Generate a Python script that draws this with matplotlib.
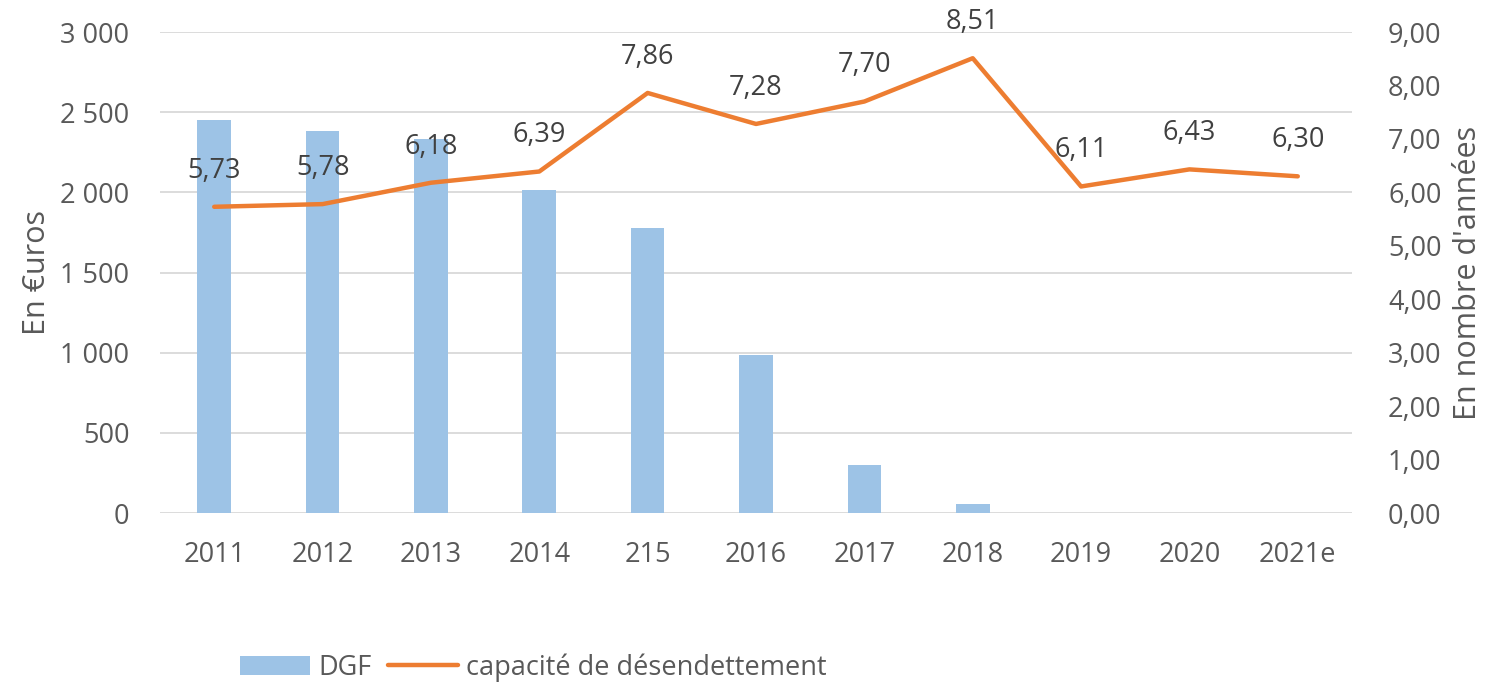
import matplotlib
matplotlib.use("Agg")
import matplotlib.pyplot as plt
from matplotlib.ticker import FuncFormatter

categories = ["2011", "2012", "2013", "2014", "215", "2016", "2017", "2018", "2019", "2020", "2021e"]
dgf = [2450, 2383, 2333, 2015, 1778, 985, 299, 56, 0, 0, 0]
capacite = [5.73, 5.78, 6.18, 6.39, 7.86, 7.28, 7.70, 8.51, 6.11, 6.43, 6.30]

plt.rcParams['font.family'] = ['Open Sans', 'DejaVu Sans']
txt = '#595959'
fs = 19.5

fig = plt.figure(figsize=(14.86, 6.83), dpi=100)
ax = fig.add_axes([0.1077, 0.2489, 0.8021, 0.7042])
x = list(range(len(categories)))
bars = ax.bar(x, dgf, width=0.31, color='#9DC3E6', zorder=2, label='DGF')
ax.set_xlim(-0.5, len(categories) - 0.5)
ax.set_ylim(0, 3000)
ax.set_yticks(range(0, 3001, 500))
ax.yaxis.set_major_formatter(FuncFormatter(lambda v, p: f"{int(v):,}".replace(",", " ")))
ax.grid(axis='y', color='#D9D9D9', linewidth=1.3, zorder=0)
ax.set_xticks(x)
ax.set_xticklabels(categories)
for s in ax.spines.values():
    s.set_visible(False)
ax.tick_params(axis='both', length=0, labelsize=fs, colors=txt)
ax.tick_params(axis='x', pad=20)
ax.tick_params(axis='y', pad=22)
ax.set_ylabel("En €uros", fontsize=22, color=txt, labelpad=6)

ax2 = ax.twinx()
line, = ax2.plot(x, capacite, color='#ED7D31', linewidth=3.2, zorder=3, label='capacité de désendettement', solid_capstyle='round')
ax2.set_ylim(0, 9)
ax2.set_yticks(range(0, 10))
ax2.yaxis.set_major_formatter(FuncFormatter(lambda v, p: f"{v:.2f}".replace(".", ",")))
for s in ax2.spines.values():
    s.set_visible(False)
ax2.tick_params(axis='y', length=0, labelsize=fs, colors=txt, pad=26)
ax2.set_ylabel("En nombre d'années", fontsize=22, color=txt, labelpad=8)

for xi, v in zip(x, capacite):
    ax2.annotate(f"{v:.2f}".replace(".", ","), (xi, v), xytext=(0, 26), textcoords='offset points',
                 ha='center', va='center', fontsize=fs, color='#404040', zorder=4)

fig.legend([bars, line], ['DGF', 'capacité de désendettement'], loc='center', bbox_to_anchor=(0.359, 0.023),
           ncol=2, frameon=False, fontsize=fs, labelcolor=txt, handlelength=2.6, handletextpad=0.3, columnspacing=0.6)

fig.savefig("out.png", dpi=100)
